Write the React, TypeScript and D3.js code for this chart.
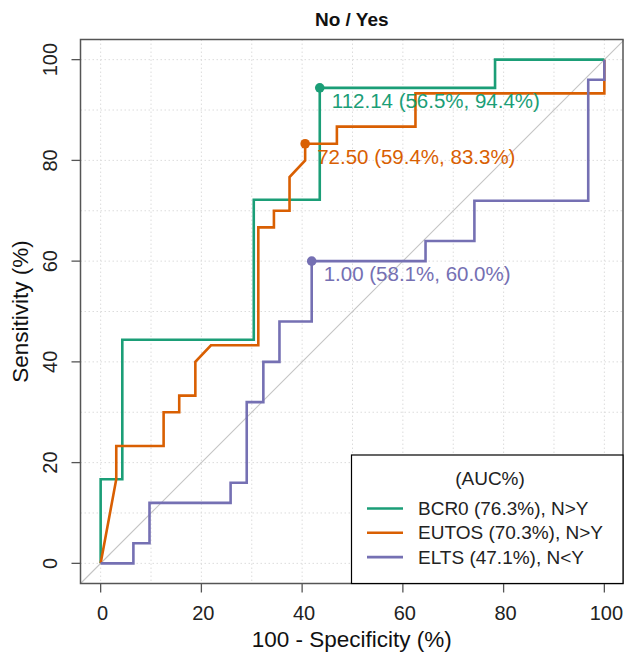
import React from "react";
import * as d3 from "d3";

const W = 624;
const H = 652;

const title = "No / Yes";
const xLabel = "100 - Specificity (%)";
const yLabel = "Sensitivity (%)";
const ticks = [0, 20, 40, 60, 80, 100];
const gridVals = [0, 10, 20, 30, 40, 50, 60, 70, 80, 90, 100];

const seriesNames = ["BCR0", "EUTOS", "ELTS"];
const legendTexts = ["BCR0 (76.3%), N>Y", "EUTOS (70.3%), N>Y", "ELTS (47.1%), N<Y"];
const colors = ["#1b9e77", "#d95f02", "#7570b3"];

// x = 100 - specificity, y = sensitivity
const bcr0X = [0, 0, 4.3, 4.3, 30.4, 30.4, 43.5, 43.5, 78.3, 78.3, 100];
const bcr0Y = [0, 16.7, 16.7, 44.4, 44.4, 72.2, 72.2, 94.4, 94.4, 100, 100];

const eutosX = [0, 3.1, 3.1, 12.5, 12.5, 15.6, 15.6, 18.8, 18.8, 21.9, 31.3, 31.3, 34.4, 34.4, 37.5, 37.5, 40.6, 40.6, 46.9, 46.9, 62.5, 62.5, 100, 100];
const eutosY = [0, 16.7, 23.3, 23.3, 30.0, 30.0, 33.3, 33.3, 40.0, 43.3, 43.3, 66.7, 66.7, 70.0, 70.0, 76.7, 80.0, 83.3, 83.3, 86.7, 86.7, 93.3, 93.3, 100];

const eltsX = [0, 6.5, 6.5, 9.7, 9.7, 25.8, 25.8, 29.0, 29.0, 32.3, 32.3, 35.5, 35.5, 41.9, 41.9, 64.5, 64.5, 74.2, 74.2, 96.8, 96.8, 100, 100];
const eltsY = [0, 0, 4, 4, 12, 12, 16, 16, 32, 32, 40, 40, 48, 48, 60, 60, 64, 64, 72, 72, 96, 96, 100];

const cutX = [43.5, 40.6, 41.9];
const cutY = [94.4, 83.3, 60.0];
const cutLabels = ["112.14 (56.5%, 94.4%)", "72.50 (59.4%, 83.3%)", "1.00 (58.1%, 60.0%)"];

const FONT = "'Liberation Sans', Arial, sans-serif";

export default function App() {
  const x = d3.scaleLinear().domain([-4, 104]).range([80.5, 624.5]);
  const y = d3.scaleLinear().domain([-4, 104]).range([583.5, 39.5]);

  const xs = [bcr0X, eutosX, eltsX];
  const ys = [bcr0Y, eutosY, eltsY];

  const line = d3
    .line<[number, number]>()
    .x((d) => x(d[0]))
    .y((d) => y(d[1]));

  const left = x(-4);
  const right = x(104) - 1.5;
  const top = y(104);
  const bottom = y(-4);

  const lgLeft = 351.5;
  const lgTop = 455;

  return (
    <svg
      width={W}
      height={H}
      style={{ position: "fixed", left: 0, top: 0, background: "#fff" }}
      fontFamily={FONT}
    >
      <rect x={0} y={0} width={W} height={H} fill="#fff" />
      {/* grid */}
      {gridVals.map((v) => (
        <g key={"g" + v}>
          <line x1={x(v)} x2={x(v)} y1={top} y2={bottom} stroke="#dcdcdc" strokeWidth={1} strokeDasharray="1.5,2.5" />
          <line x1={left} x2={right} y1={y(v)} y2={y(v)} stroke="#dcdcdc" strokeWidth={1} strokeDasharray="1.5,2.5" />
        </g>
      ))}
      {/* diagonal */}
      <line x1={x(-4)} y1={y(-4)} x2={x(104)} y2={y(104)} stroke="#c4c4c4" strokeWidth={1.1} />
      {/* curves */}
      {seriesNames.map((n, i) => {
        const pts = xs[i].map((v, j) => [v, ys[i][j]] as [number, number]);
        return (
          <path key={n} d={line(pts) || ""} fill="none" stroke={colors[i]} strokeWidth={2.6} strokeLinejoin="miter" />
        );
      })}
      {/* cutoff markers and labels */}
      {seriesNames.map((n, i) => (
        <g key={"c" + n}>
          <circle cx={x(cutX[i])} cy={y(cutY[i])} r={4.8} fill={colors[i]} />
          <text x={x(cutX[i]) + 12} y={y(cutY[i]) + 20} fontSize={20.5} fill={colors[i]}>
            {cutLabels[i]}
          </text>
        </g>
      ))}
      {/* box */}
      <rect x={left} y={top} width={right - left} height={bottom - top} fill="none" stroke="#555" strokeWidth={1.5} />
      {/* x ticks */}
      {ticks.map((t) => (
        <g key={"xt" + t}>
          <line x1={x(t)} x2={x(t)} y1={bottom} y2={bottom + 9} stroke="#555" strokeWidth={1.3} />
          <text x={x(t) + 2} y={620} textAnchor="middle" fontSize={20} fill="#222">
            {t}
          </text>
        </g>
      ))}
      {/* y ticks */}
      {ticks.map((t) => (
        <g key={"yt" + t}>
          <line x1={left} x2={left - 9} y1={y(t)} y2={y(t)} stroke="#555" strokeWidth={1.3} />
          <text
            transform={`translate(${57},${y(t)}) rotate(-90)`}
            textAnchor="middle"
            fontSize={20}
            fill="#222"
          >
            {t}
          </text>
        </g>
      ))}
      {/* axis titles */}
      <text x={(left + right) / 2} y={647} textAnchor="middle" fontSize={22.5} fill="#111">
        {xLabel}
      </text>
      <text transform={`translate(${28},${(top + bottom) / 2}) rotate(-90)`} textAnchor="middle" fontSize={22.5} fill="#111">
        {yLabel}
      </text>
      {/* title */}
      <text x={(left + right) / 2} y={25.5} textAnchor="middle" fontSize={19} fontWeight="bold" fill="#111">
        {title}
      </text>
      {/* legend */}
      <rect x={lgLeft} y={lgTop} width={right - lgLeft} height={bottom - lgTop} fill="#fff" stroke="#000" strokeWidth={1.2} />
      <text x={490} y={485} textAnchor="middle" fontSize={19} fill="#222">
        (AUC%)
      </text>
      {legendTexts.map((t, i) => (
        <g key={"lg" + i}>
          <line x1={367} x2={403} y1={508.5 + i * 24.3} y2={508.5 + i * 24.3} stroke={colors[i]} strokeWidth={2.6} />
          <text x={418} y={515 + i * 24.3} fontSize={19} fill="#222">
            {t}
          </text>
        </g>
      ))}
    </svg>
  );
}
